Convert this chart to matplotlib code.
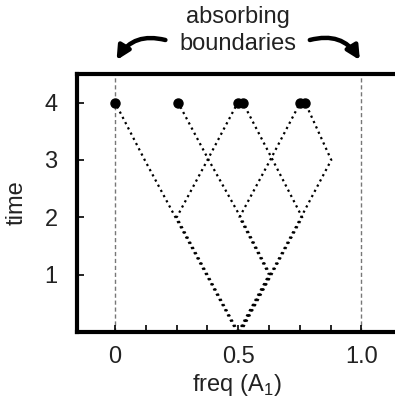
import matplotlib
matplotlib.use("Agg")
import matplotlib.pyplot as plt
from matplotlib.patches import FancyArrowPatch

plt.rcParams['font.family'] = ['Liberation Sans', 'DejaVu Sans']

# time steps and allele-frequency paths
times = [0, 1, 2, 3, 4]
path1 = [0.495, 0.370, 0.245, 0.120, 0.000]
path2 = [0.500, 0.375, 0.250, 0.375, 0.498]
path3 = [0.505, 0.630, 0.510, 0.380, 0.256]
path4 = [0.500, 0.625, 0.505, 0.630, 0.752]
path5 = [0.510, 0.635, 0.760, 0.640, 0.519]
path6 = [0.505, 0.630, 0.755, 0.878, 0.772]
paths = [path1, path2, path3, path4, path5, path6]

boundaries = [0.0, 1.0]
xtick_major = [0, 0.5, 1.0]
xtick_labels = ["0", "0.5", "1.0"]
xtick_minor = [0.125, 0.25, 0.375, 0.625, 0.75, 0.875]
yticks = [1, 2, 3, 4]

txt = "#222222"
fs = 17
fig = plt.figure(figsize=(3.95, 4.0), dpi=100)
ax = fig.add_axes([0.195, 0.17, 0.81, 0.645])

for b in boundaries:
    ax.axvline(b, color="#777777", lw=1.0, ls=(0, (3, 2)), zorder=1)

for p in paths:
    ax.plot(p, times, color="black", lw=1.6, ls=":", zorder=2)
    ax.plot(p[-1], times[-1], "o", color="black", ms=6.5, zorder=3)

ax.set_xlim(-0.155, 1.145)
ax.set_ylim(0, 4.5)

ax.set_xticks(xtick_major)
ax.set_xticklabels(xtick_labels)
ax.set_xticks(xtick_minor, minor=True)
ax.set_yticks(yticks)
ax.tick_params(axis="both", which="both", direction="in", length=5, width=1.2,
               labelsize=fs, labelcolor=txt)
ax.tick_params(axis="x", pad=10)
ax.tick_params(axis="y", pad=14)

for s in ["left", "top", "bottom"]:
    ax.spines[s].set_linewidth(3)
ax.spines["right"].set_visible(False)

ax.set_xlabel(r"freq (A$_\mathregular{1}$)", fontsize=fs, color=txt, labelpad=3)
ax.set_ylabel("time", fontsize=fs, color=txt, labelpad=12)

ax.text(0.497, 5.26, "absorbing\nboundaries", ha="center", va="center",
        fontsize=fs, color=txt, linespacing=1.3, clip_on=False)

left_arrow = FancyArrowPatch((0.215, 5.08), (0.0, 4.70), connectionstyle="arc3,rad=0.4",
                             arrowstyle="-|>", mutation_scale=20, lw=3.2, color="black",
                             clip_on=False)
right_arrow = FancyArrowPatch((0.78, 5.08), (1.0, 4.70), connectionstyle="arc3,rad=-0.4",
                              arrowstyle="-|>", mutation_scale=20, lw=3.2, color="black",
                              clip_on=False)
ax.add_patch(left_arrow)
ax.add_patch(right_arrow)

fig.savefig("out.png", dpi=100)
